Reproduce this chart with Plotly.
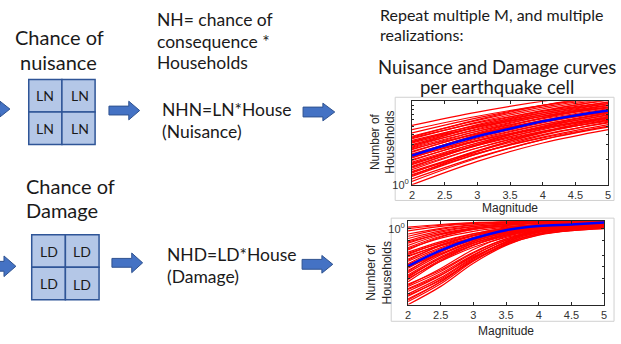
import numpy as np
import plotly.graph_objects as go

W, H = 621, 344

# ---------------- data ----------------
magnitudes = [2, 2.5, 3, 3.5, 4, 4.5, 5]
magnitudes_coarse = [2, 3, 4, 5]
x_ticks = [2, 2.5, 3, 3.5, 4, 4.5, 5]
x_tick_labels = ["2", "2.5", "3", "3.5", "4", "4.5", "5"]

# Nuisance curves: log10(number of households) at M = 2, 3, 4, 5
nuisance_log = [
    [0.00, 0.28, 0.50, 0.66], [0.04, 0.32, 0.54, 0.70], [0.07, 0.33, 0.54, 0.69],
    [0.10, 0.37, 0.59, 0.75], [0.12, 0.37, 0.57, 0.72], [0.14, 0.41, 0.62, 0.78],
    [0.16, 0.40, 0.60, 0.74], [0.18, 0.44, 0.64, 0.79], [0.20, 0.44, 0.63, 0.77],
    [0.22, 0.47, 0.67, 0.82], [0.24, 0.48, 0.66, 0.80], [0.25, 0.50, 0.69, 0.84],
    [0.27, 0.50, 0.68, 0.81], [0.29, 0.53, 0.72, 0.86], [0.30, 0.52, 0.70, 0.83],
    [0.32, 0.56, 0.74, 0.88], [0.34, 0.55, 0.72, 0.85], [0.36, 0.59, 0.77, 0.90],
    [0.37, 0.58, 0.75, 0.87], [0.39, 0.62, 0.80, 0.93], [0.40, 0.61, 0.77, 0.89],
    [0.42, 0.64, 0.82, 0.95], [0.44, 0.64, 0.79, 0.91], [0.45, 0.67, 0.84, 0.97],
    [0.47, 0.66, 0.82, 0.93], [0.48, 0.69, 0.86, 0.99], [0.50, 0.69, 0.84, 0.95],
    [0.51, 0.72, 0.89, 1.01], [0.53, 0.71, 0.86, 0.97], [0.55, 0.75, 0.91, 1.03],
    [0.56, 0.74, 0.88, 0.99], [0.58, 0.77, 0.93, 1.04], [0.62, 0.80, 0.95, 1.06],
    [0.66, 0.82, 0.95, 1.05], [0.71, 0.87, 1.00, 1.10], [0.15, 0.38, 0.56, 0.70],
    [0.26, 0.47, 0.64, 0.76], [0.33, 0.53, 0.68, 0.80], [0.43, 0.61, 0.76, 0.87],
    [0.52, 0.69, 0.82, 0.92], [0.35, 0.60, 0.80, 0.95], [0.21, 0.48, 0.70, 0.86],
    [0.46, 0.70, 0.88, 1.02], [0.11, 0.40, 0.63, 0.80], [0.57, 0.78, 0.95, 1.08],
]
nuisance_mean_log = [0.35, 0.47, 0.58, 0.67, 0.76, 0.83, 0.89]

# Damage curves: log10(number of households) at M = 2, 2.5, ..., 5
damage_log = [
    [-2.00, -1.52, -0.91, -0.44, -0.16, -0.04, 0.02],
    [-1.92, -1.45, -0.86, -0.40, -0.13, 0.00, 0.05],
    [-1.85, -1.40, -0.83, -0.39, -0.13, -0.02, 0.04],
    [-1.78, -1.33, -0.78, -0.35, -0.09, 0.02, 0.08],
    [-1.72, -1.29, -0.76, -0.35, -0.10, 0.01, 0.06],
    [-1.65, -1.23, -0.71, -0.30, -0.06, 0.05, 0.10],
    [-1.58, -1.18, -0.69, -0.31, -0.08, 0.02, 0.07],
    [-1.52, -1.13, -0.64, -0.27, -0.04, 0.06, 0.11],
    [-1.46, -1.09, -0.62, -0.27, -0.05, 0.04, 0.09],
    [-1.40, -0.85, -0.44, -0.17, 0.00, 0.06, 0.12],
    [-1.34, -0.82, -0.43, -0.17, -0.01, 0.04, 0.10],
    [-1.28, -0.77, -0.39, -0.14, 0.02, 0.07, 0.13],
    [-1.22, -0.74, -0.38, -0.14, 0.00, 0.06, 0.11],
    [-1.16, -0.69, -0.34, -0.11, 0.04, 0.09, 0.14],
    [-1.10, -0.66, -0.33, -0.11, 0.02, 0.07, 0.12],
    [-1.04, -0.61, -0.29, -0.08, 0.05, 0.10, 0.15],
    [-0.98, -0.58, -0.28, -0.08, 0.04, 0.09, 0.13],
    [-0.92, -0.53, -0.24, -0.05, 0.07, 0.12, 0.16],
    [-0.86, -0.50, -0.23, -0.05, 0.06, 0.10, 0.14],
    [-0.80, -0.45, -0.19, -0.01, 0.09, 0.13, 0.17],
    [-0.74, -0.42, -0.18, -0.02, 0.08, 0.11, 0.15],
    [-0.68, -0.37, -0.14, 0.02, 0.11, 0.15, 0.18],
    [-0.62, -0.34, -0.13, 0.01, 0.10, 0.13, 0.16],
    [-0.56, -0.22, -0.02, 0.09, 0.15, 0.18, 0.19],
    [-0.50, -0.20, -0.02, 0.08, 0.14, 0.16, 0.17],
    [-0.44, -0.16, 0.01, 0.11, 0.16, 0.18, 0.19],
    [-0.38, -0.13, 0.02, 0.11, 0.15, 0.17, 0.18],
    [-0.32, -0.09, 0.05, 0.13, 0.17, 0.19, 0.20],
    [-0.26, -0.06, 0.06, 0.12, 0.16, 0.17, 0.18],
    [-0.20, -0.02, 0.09, 0.15, 0.18, 0.19, 0.20],
    [-0.14, 0.01, 0.10, 0.15, 0.17, 0.18, 0.19],
    [-0.06, 0.06, 0.13, 0.17, 0.19, 0.20, 0.20],
    [0.00, 0.09, 0.14, 0.17, 0.19, 0.20, 0.20],
    [0.04, 0.11, 0.16, 0.18, 0.19, 0.20, 0.20],
    [-1.60, -1.22, -0.74, -0.37, -0.14, -0.05, 0.00],
    [-1.25, -0.78, -0.43, -0.20, -0.05, 0.00, 0.05],
    [-0.95, -0.58, -0.30, -0.12, 0.00, 0.04, 0.08],
    [-0.65, -0.38, -0.18, -0.04, 0.04, 0.07, 0.10],
    [-1.88, -1.40, -0.80, -0.34, -0.06, 0.06, 0.12],
    [-0.35, -0.14, -0.01, 0.06, 0.10, 0.11, 0.12],
    [-1.75, -1.36, -0.84, -0.42, -0.17, -0.05, 0.01],
    [-1.49, -1.05, -0.55, -0.20, 0.01, 0.08, 0.13],
    [-1.31, -0.86, -0.49, -0.23, -0.07, -0.01, 0.04],
    [-1.13, -0.62, -0.28, -0.06, 0.07, 0.12, 0.16],
    [-1.01, -0.66, -0.37, -0.17, -0.04, 0.01, 0.05],
    [-0.83, -0.44, -0.17, 0.01, 0.11, 0.15, 0.18],
    [-0.71, -0.45, -0.25, -0.10, 0.00, 0.04, 0.07],
    [-0.53, -0.25, -0.07, 0.04, 0.10, 0.12, 0.14],
]
damage_mean_log = [-0.99, -0.57, -0.26, -0.04, 0.07, 0.11, 0.16]

# ---------------- helpers ----------------
def X(p):
    return p / W

def Y(p):
    return 1 - p / H

TXT = "Lato"
RED = "#ff0000"
BLUE = "#0000ff"
ARROW_FILL = "#4472c4"
ARROW_LINE = "#2f528f"
CELL_FILL = "#b4c7e7"
CELL_LINE = "#2f5597"

fig = go.Figure()

for curve in nuisance_log:
    fig.add_trace(go.Scatter(x=magnitudes_coarse, y=[10 ** v for v in curve],
                             mode="lines", line=dict(color=RED, width=1.2, shape="spline"),
                             xaxis="x", yaxis="y", hoverinfo="skip"))
fig.add_trace(go.Scatter(x=magnitudes, y=[10 ** v for v in nuisance_mean_log],
                         mode="lines", line=dict(color=BLUE, width=2.5, shape="spline"),
                         xaxis="x", yaxis="y"))

for curve in damage_log:
    fig.add_trace(go.Scatter(x=magnitudes, y=[10 ** v for v in curve],
                             mode="lines", line=dict(color=RED, width=1.2, shape="spline"),
                             xaxis="x2", yaxis="y2", hoverinfo="skip"))
fig.add_trace(go.Scatter(x=magnitudes, y=[10 ** v for v in damage_mean_log],
                         mode="lines", line=dict(color=BLUE, width=2.5, shape="spline"),
                         xaxis="x2", yaxis="y2"))

axis_common = dict(showline=True, linecolor="#262626", linewidth=1, mirror="allticks",
                   ticks="inside", ticklen=3, tickcolor="#262626", showgrid=False,
                   zeroline=False, tickfont=dict(family="Liberation Sans", size=11, color="#333333"))

fig.update_layout(
    width=W, height=H, margin=dict(l=0, r=0, t=0, b=0),
    paper_bgcolor="white", plot_bgcolor="white", showlegend=False,
    xaxis=dict(domain=[X(413), X(611)], range=[2, 5], tickvals=x_ticks, ticktext=x_tick_labels,
               anchor="y", **axis_common),
    yaxis=dict(domain=[Y(188), Y(103)], type="log", range=[0, 1], tickvals=[1],
               ticktext=["10<sup>0</sup>"], anchor="x",
               minor=dict(ticks="inside", ticklen=2, tickcolor="#262626",
                          tickvals=[2, 3, 4, 5, 6, 7, 8, 9]),
               **axis_common),
    xaxis2=dict(domain=[X(409), X(607)], range=[2, 5], tickvals=x_ticks, ticktext=x_tick_labels,
                anchor="y2", **axis_common),
    yaxis2=dict(domain=[Y(310), Y(225)], type="log", range=[-2, 0.2], tickvals=[1],
                ticktext=["10<sup>0</sup>"], anchor="x2",
                minor=dict(ticks="inside", ticklen=2, tickcolor="#262626",
                           tickvals=[0.02, 0.05, 0.1, 0.2, 0.5]),
                **axis_common),
)

shapes = []
# frames around the two embedded figures
shapes.append(dict(type="rect", xref="paper", yref="paper", x0=X(396), x1=X(617), y0=Y(204), y1=Y(99),
                   line=dict(color="#d0d0d0", width=1), layer="below"))
shapes.append(dict(type="rect", xref="paper", yref="paper", x0=X(392), x1=X(617), y0=Y(327), y1=Y(222),
                   line=dict(color="#d0d0d0", width=1), layer="below"))

# 2x2 grids
def grid(x0, x1, y0, y1):
    xm, ym = (x0 + x1) / 2, (y0 + y1) / 2
    for (a, b, c, d) in [(x0, xm, y0, ym), (xm, x1, y0, ym), (x0, xm, ym, y1), (xm, x1, ym, y1)]:
        shapes.append(dict(type="rect", xref="paper", yref="paper", x0=X(a), x1=X(b), y0=Y(d), y1=Y(c),
                           fillcolor=CELL_FILL, line=dict(color=CELL_LINE, width=1.5)))
    return xm, ym

ln_xm, ln_ym = grid(26, 93, 81, 147)
ld_xm, ld_ym = grid(29, 97, 239, 305)

# arrows
def arrow(xt, xh, xtip, yc, hs, hh):
    pts = [(xt, yc - hs), (xh, yc - hs), (xh, yc - hh), (xtip, yc), (xh, yc + hh), (xh, yc + hs), (xt, yc + hs)]
    path = "M " + " L ".join(f"{X(a):.5f},{Y(b):.5f}" for a, b in pts) + " Z"
    shapes.append(dict(type="path", xref="paper", yref="paper", path=path,
                       fillcolor=ARROW_FILL, line=dict(color=ARROW_LINE, width=1)))

arrow(107, 127, 138, 112.5, 4.5, 9.5)
arrow(303, 323, 335, 114, 5, 9)
arrow(110, 130, 141, 267.5, 4.5, 10)
arrow(302, 322, 333, 269, 5, 9)
arrow(-20, -3, 7, 111, 4.5, 8)
arrow(-20, 1, 13, 271, 5, 10.5)

fig.update_layout(shapes=shapes)

ann = []
def text(s, x, y, size, xanchor="center", color="#1a1a1a", family=TXT, angle=0):
    ann.append(dict(text=s, x=X(x), y=Y(y), xref="paper", yref="paper", showarrow=False,
                    xanchor=xanchor, yanchor="middle", align="left" if xanchor == "left" else "center",
                    textangle=angle, font=dict(family=family, size=size, color=color)))

text("Chance of", 57, 38, 20)
text("nuisance", 56, 63, 20)
text("Chance of", 21, 189, 20, xanchor="left")
text("Damage", 21, 214, 20, xanchor="left")
text("NH= chance of", 153, 20, 17.5, xanchor="left")
text("consequence *", 153, 42, 17.5, xanchor="left")
text("Households", 153, 64, 17.5, xanchor="left")
text("NHN=LN*House", 159, 111, 17.5, xanchor="left")
text("(Nuisance)", 159, 134, 17.5, xanchor="left")
text("NHD=LD*House", 164, 259, 17.5, xanchor="left")
text("(Damage)", 164, 281, 17.5, xanchor="left")
text("Repeat multiple M, and multiple", 379, 15, 16, xanchor="left")
text("realizations:", 379, 35, 16, xanchor="left")
text("Nuisance and Damage curves", 499, 68, 18.5)
text("per earthquake cell", 499, 89, 18.5)

for (cx, cy) in [((26 + ln_xm) / 2, (81 + ln_ym) / 2), ((ln_xm + 93) / 2 + 1, (81 + ln_ym) / 2),
                 ((26 + ln_xm) / 2, (ln_ym + 147) / 2), ((ln_xm + 93) / 2 + 1, (ln_ym + 147) / 2)]:
    text("LN", cx, cy, 14)
for (cx, cy) in [((29 + ld_xm) / 2, (239 + ld_ym) / 2), ((ld_xm + 97) / 2, (239 + ld_ym) / 2),
                 ((29 + ld_xm) / 2, (ld_ym + 305) / 2), ((ld_xm + 97) / 2, (ld_ym + 305) / 2 + 1)]:
    text("LD", cx, cy, 14)

# axis titles
text("Magnitude", 512, 212, 12, family="Liberation Sans", color="#262626")
text("Magnitude", 508, 337, 12, family="Liberation Sans", color="#262626")
text("Number of<br>Households", 384, 145, 12, family="Liberation Sans", color="#262626", angle=-90)
text("Number of<br>Households", 380, 278, 12, family="Liberation Sans", color="#262626", angle=-90)

fig.update_layout(annotations=ann)

fig.write_html("out.html", config={"displayModeBar": False},
               post_script="document.body.style.margin='0';document.body.style.overflow='hidden';")
